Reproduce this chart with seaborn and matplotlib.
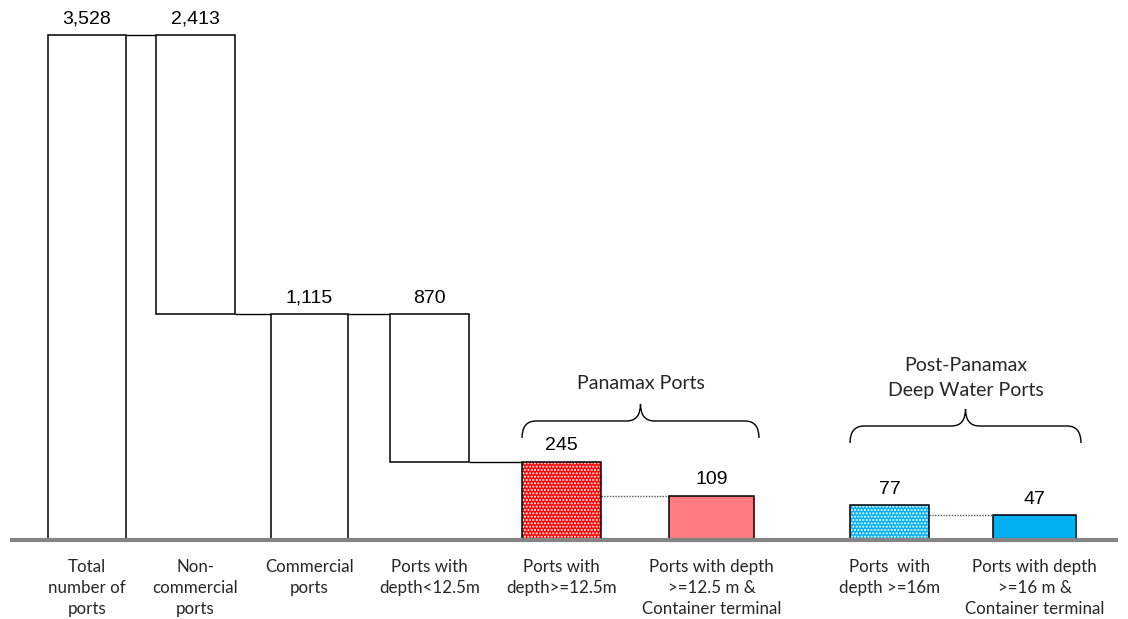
import numpy as np
import matplotlib
matplotlib.use("Agg")
import matplotlib.pyplot as plt
import seaborn as sns
from matplotlib.path import Path
from matplotlib.patches import PathPatch

# ---------------- data ----------------
categories = [
    "Total\nnumber of\nports",
    "Non-\ncommercial\nports",
    "Commercial\nports",
    "Ports with\ndepth<12.5m",
    "Ports with\ndepth>=12.5m",
    "Ports with depth\n>=12.5 m &\nContainer terminal",
    "Ports  with\ndepth >=16m",
    "Ports with depth\n>=16 m &\nContainer terminal",
]
values = [3528, 2413, 1115, 870, 245, 109, 77, 47]
# step-down (floating) bars of the waterfall
floating = [False, True, False, True, False, False, False, False]
group_titles = ["Panamax Ports", "Post-Panamax\nDeep Water Ports"]
group_members = [(4, 5), (6, 7)]
# connectors between neighbouring bars: (left bar index, style)
connectors = [(0, "-"), (1, "-"), (2, "-"), (3, "-"), (4, ":"), (6, ":")]

# ---------------- layout / style ----------------
x_pos = [87, 195.5, 309.5, 429.5, 561.5, 711.5, 889.5, 1034.5]
bar_w = [78, 79, 77, 79, 79, 85, 79, 83]
face = ["white", "white", "white", "white", "#ff0000", "#ff7c80", "#00b0f0", "#00b0f0"]
hatched = [False, False, False, False, True, False, True, False]

sns.set_theme(style="white")
plt.rcParams["font.family"] = ["Liberation Sans", "DejaVu Sans"]

fig = plt.figure(figsize=(11.28, 6.19), dpi=100)
ax = fig.add_axes([0, 79 / 619, 1, 540 / 619])

# waterfall geometry derived from values
bottoms = []
for i, v in enumerate(values):
    bottoms.append(values[i - 1] - v if floating[i] else 0)
tops = [b + v for b, v in zip(bottoms, values)]

for i in range(len(values)):
    kw = dict(x=[x_pos[i]], y=[values[i]], native_scale=True, width=bar_w[i],
              errorbar=None, saturation=1, ax=ax, bottom=bottoms[i])
    if hatched[i]:
        sns.barplot(**kw, color=face[i], edgecolor="white", linewidth=0,
                    hatch=".....", zorder=2)
        sns.barplot(**kw, fill=False, color="black", edgecolor="black",
                    linewidth=1.1, zorder=2.5)
    else:
        sns.barplot(**kw, color=face[i], edgecolor="black", linewidth=1.1, zorder=2)

# connectors
for i, style in connectors:
    level = bottoms[i] if floating[i] else tops[i + 1]
    x0 = x_pos[i] + bar_w[i] / 2
    x1 = x_pos[i + 1] - bar_w[i + 1] / 2
    if style == "-":
        ax.hlines(level, x0, x1, colors="black", linewidth=1.0, zorder=1.5)
    else:
        ax.hlines(level, x0, x1, colors="#555555", linewidth=1.0,
                  linestyles=(0, (1, 1)), zorder=1.5)

# value labels
for i, v in enumerate(values):
    ax.annotate(f"{v:,}", (x_pos[i], tops[i]), xytext=(0, 5.5),
                textcoords="offset points", ha="center", va="bottom",
                fontsize=14, family=["Liberation Sans", "DejaVu Sans"], color="black")

# scale: chart is not drawn to scale -> compressive power axis
pw = 0.7
ax.set_yscale("function", functions=(lambda v: np.sign(v) * np.abs(v) ** pw,
                                     lambda v: np.sign(v) * np.abs(v) ** (1 / pw)))
ax.set_ylim(0, 3880)
ax.set_xlim(0, 1128)

# baseline
ax.hlines(0, 10, 1118, colors="#858585", linewidth=3.0, clip_on=False, zorder=5)

# braces + group titles
trans = ax.get_xaxis_transform()
brace_y = [(0.1889, 0.2204, 0.2519), (0.1796, 0.2111, 0.2426)]
title_y = [0.2907, 0.300]
for g, (a, b) in enumerate(group_members):
    xl = x_pos[a] - bar_w[a] / 2
    xr = x_pos[b] + bar_w[b] / 2 + 5
    xm = (xl + xr) / 2
    yb, yh, yt = brace_y[g]
    r = 14
    verts = [(xl, yb), (xl, yh), (xl + r, yh),
             (xm - r, yh), (xm, yh), (xm, yt),
             (xm, yh), (xm + r, yh),
             (xr - r, yh), (xr, yh), (xr, yb)]
    codes = [Path.MOVETO, Path.CURVE3, Path.CURVE3,
             Path.LINETO, Path.CURVE3, Path.CURVE3,
             Path.CURVE3, Path.CURVE3,
             Path.LINETO, Path.CURVE3, Path.CURVE3]
    ax.add_patch(PathPatch(Path(verts, codes), transform=trans, facecolor="none",
                           edgecolor="black", linewidth=1.0, clip_on=False))
    ax.text(xm, title_y[g], group_titles[g], transform=trans, ha="center", va="center",
            fontsize=14, family=["Lato", "DejaVu Sans"], linespacing=1.55)

# axes cosmetics
ax.set_xticks(x_pos, categories)
ax.set_yticks([])
ax.tick_params(axis="x", length=0, pad=14)
for lab in ax.get_xticklabels():
    lab.set_family(["Lato", "DejaVu Sans"])
    lab.set_fontsize(12.2)
    lab.set_linespacing(1.38)
ax.set_xlabel("")
ax.set_ylabel("")
for s in ax.spines.values():
    s.set_visible(False)

fig.savefig("out.png", dpi=100)
